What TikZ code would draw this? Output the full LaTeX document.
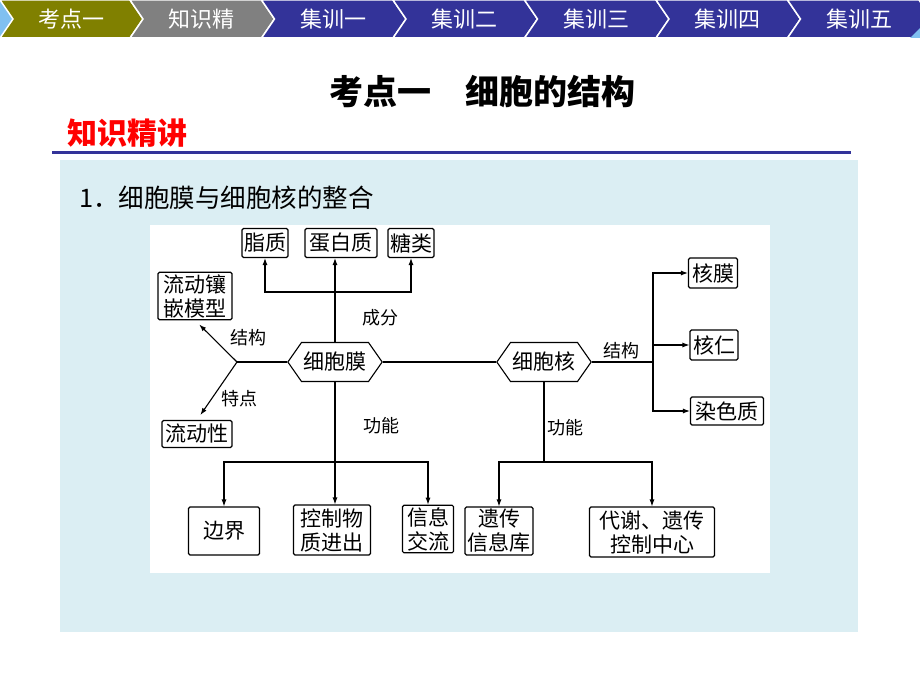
\documentclass[tikz,border=0pt]{standalone}
\usepackage{fontspec}
\setmainfont{Noto Sans CJK SC}
\usetikzlibrary{arrows.meta,shapes.symbols}
\definecolor{olivetab}{HTML}{808000}
\definecolor{greytab}{HTML}{808080}
\definecolor{navytab}{HTML}{333399}
\definecolor{panelblue}{HTML}{DBEEF3}
\definecolor{tipblue}{HTML}{80C0F0}
\begin{document}
\begin{tikzpicture}[x=1pt,y=-1pt,
  box/.style={draw,rounded corners=1.5pt,line width=1.1pt,inner sep=2pt,align=center,font=\fontsize{21}{24}\selectfont},
  hexa/.style={draw,shape=signal,signal to=west and east,signal pointer angle=110,line width=1.1pt,minimum width=93pt,minimum height=39pt,inner xsep=2pt,font=\fontsize{21}{24}\selectfont},
  lab/.style={font=\fontsize{18}{20}\selectfont,inner sep=0pt},
  arr/.style={-{Latex[length=7pt,width=5pt]},line width=1.1pt},
  ln/.style={line width=1.1pt},
  tabtext/.style={text=white,font=\fontsize{22}{24}\selectfont,inner sep=0pt}]
\useasboundingbox (0,0) rectangle (920,690);
\fill[white] (0,0) rectangle (920,690);
% tab bar
\fill[tipblue] (0,0) -- (3,0) -- (16,19) -- (3,38) -- (0,38) -- cycle;
\foreach \i/\t/\c in {0/考点一/olivetab,1/知识精/greytab,2/集训一/navytab,3/集训二/navytab,4/集训三/navytab,5/集训四/navytab,6/集训五/navytab}{
  \pgfmathsetmacro\L{\i==0 ? 0 : 130+131.5*(\i-1)}
  \pgfmathsetmacro\R{130+131.5*\i}
  \draw[white,line width=1.5pt,fill=\c] (\L,0) -- (\R,0) -- (\R+13,19) -- (\R,38) -- (\L,38) -- (\L+13,19) -- cycle;
  \node[tabtext] (tab\i) at ({(\L+\R)/2+6},19) {\t};
}
\fill[tipblue] (920,28) -- (920,38) -- (910,38) -- cycle;
% headings
\node[font=\fontsize{34}{38}\selectfont\bfseries,inner sep=0pt] (title) at (482,92) {考点一　细胞的结构};
\node[font=\fontsize{30}{32}\selectfont\bfseries,text=red,anchor=west,inner sep=0pt] (zsjj) at (67,133) {知识精讲};
\draw[navytab,line width=3pt] (52,152) -- (851,152);
\fill[panelblue] (60,160) rectangle (858,632);
\node[font=\fontsize{25.5}{28}\selectfont,anchor=west,inner sep=0pt] (head1) at (79,198) {1．细胞膜与细胞核的整合};
\fill[white] (150,225) rectangle (770,573);
% nodes
\node[box,minimum width=45pt,minimum height=29pt] (lip) at (265,243) {脂质};
\node[box,minimum width=72pt,minimum height=29pt] (pro) at (341,243) {蛋白质};
\node[box,minimum width=45pt,minimum height=29pt] (sug) at (411,243) {糖类};
\node[box,minimum width=74pt,minimum height=46pt] (fm) at (195,296) {流动镶\\嵌模型};
\node[box,minimum width=70pt,minimum height=27pt] (fx) at (197,434) {流动性};
\node[hexa] (mem) at (335,362) {细胞膜};
\node[hexa] (nuc) at (544,362) {细胞核};
\node[box,minimum width=49pt,minimum height=30pt] (hm) at (713,273) {核膜};
\node[box,minimum width=48pt,minimum height=30pt] (hr) at (714,345) {核仁};
\node[box,minimum width=73pt,minimum height=28pt] (rs) at (727,411) {染色质};
\node[box,minimum width=71pt,minimum height=48pt] (bj) at (224,531) {边界};
\node[box,minimum width=77pt,minimum height=50pt] (kz) at (332,530) {控制物\\质进出};
\node[box,minimum width=51pt,minimum height=47pt] (xx) at (428,529) {信息\\交流};
\node[box,minimum width=68pt,minimum height=48pt] (yc) at (499,531) {遗传\\信息库};
\node[box,minimum width=125pt,minimum height=50pt] (dx) at (652,532) {代谢、遗传\\控制中心};
% membrane
\coordinate (cf) at (335,292);
\draw[arr] (mem.north) -- (mem.north |- pro.south);
\draw[arr] (cf) -| (lip.south);
\draw[arr] (cf) -| (sug.south);
\node[lab] (cfl) at (380,318) {成分};
\coordinate (jl) at (237,362);
\draw[ln] (mem.west) -- (jl);
\draw[arr,shorten >=6pt] (jl) -- (fm.south);
\draw[arr,shorten >=6pt] (jl) -- (fx.north);
\node[lab] (jgl) at (248,338) {结构};
\node[lab] (tdl) at (239,399) {特点};
\coordinate (gm) at (335,462);
\draw[arr] (mem.south) -- (mem.south |- kz.north);
\draw[arr] (gm) -| (bj.north);
\draw[arr] (gm) -| (xx.north);
\node[lab] (gnl1) at (381,426) {功能};
% nucleus
\draw[ln] (mem.east) -- (nuc.west);
\coordinate (gn) at (544,462);
\draw[ln] (nuc.south) -- (gn);
\draw[arr] (gn) -| (yc.north);
\draw[arr] (gn) -| (dx.north);
\node[lab] (gnl2) at (565,428) {功能};
\coordinate (jr) at (653,362);
\draw[ln] (nuc.east) -- (jr);
\draw[arr] (jr) |- (hm.west);
\draw[arr] (jr) |- (hr.west);
\draw[arr] (jr) |- (rs.west);
\node[lab] (jgr) at (621,351) {结构};
\end{tikzpicture}
\end{document}
